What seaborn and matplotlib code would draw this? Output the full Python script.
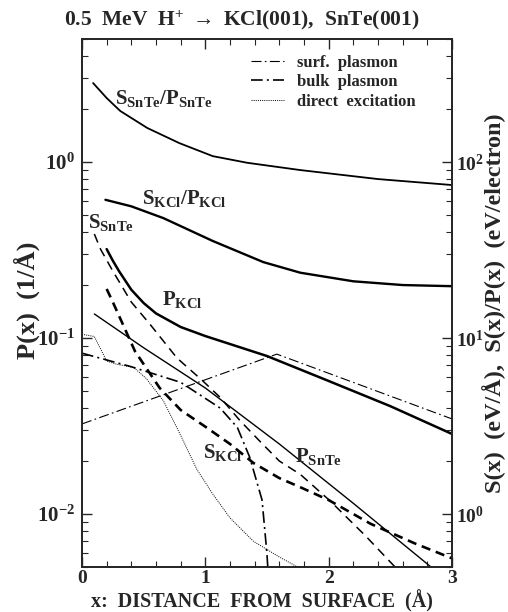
import numpy as np
import pandas as pd
import matplotlib
matplotlib.use("Agg")
import matplotlib.pyplot as plt
import seaborn as sns
from matplotlib.ticker import LogLocator, FixedLocator, NullFormatter
from matplotlib.lines import Line2D

sns.set_style("ticks")
plt.rcParams['font.family'] = ['Liberation Serif', 'DejaVu Serif']
plt.rcParams['font.weight'] = 'bold'
plt.rcParams['mathtext.fontset'] = 'custom'
plt.rcParams['mathtext.rm'] = 'Liberation Serif:bold'
plt.rcParams['mathtext.bf'] = 'Liberation Serif:bold'
plt.rcParams['mathtext.it'] = 'Liberation Serif:bold'

# ---- data (x in Angstrom) ----
# P(x) in 1/Angstrom (left axis)
x_pkcl = [0.2, 0.25, 0.3, 0.4, 0.5, 0.6, 0.8, 1.0, 1.5, 2.0, 2.5, 3.0]
p_kcl = [0.32, 0.275, 0.24, 0.188, 0.158, 0.138, 0.1155, 0.1026, 0.079, 0.057, 0.041, 0.0285]
x_psnte = [0.1, 0.5, 1.0, 1.6, 2.2, 2.8, 3.0]
p_snte = [0.137, 0.088, 0.052, 0.025, 0.0115, 0.0052, 0.004]

# S(x) in eV/Angstrom (right axis)
x_ssnte = [0.1, 0.15, 0.25, 0.4, 0.55, 0.77, 0.98, 1.12, 1.28, 1.44, 1.6, 1.77, 2.01, 2.3, 2.55]
s_snte = [39, 32, 24, 16, 12, 7.7, 5.7, 4.6, 3.4, 2.6, 2.0, 1.68, 1.19, 0.75, 0.49]
x_skcl = [0.2, 0.25, 0.43, 0.63, 0.8, 1.01, 1.2, 1.39, 1.6, 1.77, 2.0, 2.34, 2.7, 3.0]
s_kcl = [19, 16, 8.4, 5.2, 3.9, 3.1, 2.5, 1.95, 1.6, 1.42, 1.2, 0.88, 0.68, 0.56]

# S(x)/P(x) in eV/electron (right axis)
x_r_snte = [0.09, 0.2, 0.31, 0.53, 0.79, 1.06, 1.34, 1.77, 2.4, 3.0]
r_snte = [281, 231, 195, 156, 128, 108, 99, 90, 80, 74]
x_r_kcl = [0.19, 0.4, 0.66, 1.06, 1.47, 1.77, 2.2, 2.6, 3.0]
r_kcl = [61, 56, 48, 35.6, 27, 23.5, 21, 20, 19.7]

# components (eV/Angstrom, right axis)
x_surf = [0.0, 1.58, 3.0]
surf = [3.25, 8.1, 3.47]
x_bulk = [0.0, 0.39, 0.8, 1.12, 1.26, 1.36, 1.46, 1.50, 1.51]
bulk = [8.2, 6.9, 5.6, 4.0, 3.1, 2.1, 1.2, 0.59, 0.45]
x_dir = [0.0, 0.1, 0.2, 0.28, 0.42, 0.52, 0.66, 0.8, 0.93, 1.06, 1.2, 1.39, 1.6, 1.77]
direct = [10.5, 10.2, 7.4, 7.1, 6.8, 5.9, 4.4, 2.8, 1.8, 1.3, 0.95, 0.7, 0.57, 0.49]

fig = plt.figure(figsize=(5.08, 6.12), dpi=100)
ax = fig.add_axes([82/508, 1-567/612, 370/508, 528/612])
ax2 = ax.twinx()

ax.set_yscale('log')
ax2.set_yscale('log')
ax.set_xlim(0, 3)
ax.set_ylim(0.005, 5)
ax2.set_ylim(0.5, 500)

def line(axis, x, y, lw, ls, color='black'):
    df = pd.DataFrame({'x': x, 'y': y})
    sns.lineplot(data=df, x='x', y='y', ax=axis, color=color, lw=lw,
                 linestyle=ls, sort=False, estimator=None, legend=False)

SURF = (0, (9, 3, 1.5, 3))
BULK = (0, (7, 2.5, 1.2, 2.5))
DOT = (0, (1, 1.2))

line(ax, x_pkcl, p_kcl, 1.8, '-')
line(ax, x_psnte, p_snte, 1.0, '-')
line(ax2, x_r_snte, r_snte, 1.3, '-')
line(ax2, x_r_kcl, r_kcl, 1.7, '-')
line(ax2, x_ssnte, s_snte, 1.1, (0, (6, 4)))
line(ax2, x_skcl, s_kcl, 1.9, (0, (3.5, 2.2)))
line(ax2, x_surf, surf, 0.8, SURF)
line(ax2, x_bulk, bulk, 1.2, BULK)
line(ax2, x_dir, direct, 0.7, DOT)

ax.set_xlabel('')
ax.set_ylabel('')
ax2.set_ylabel('')

handles = [Line2D([], [], color='k', lw=0.8, ls=SURF),
           Line2D([], [], color='k', lw=1.2, ls=BULK),
           Line2D([], [], color='k', lw=0.7, ls=DOT)]
ax2.legend(handles, ['surf.  plasmon', 'bulk  plasmon', 'direct  excitation'],
           loc='upper left', bbox_to_anchor=(0.42, 0.995), frameon=False,
           handlelength=2.0, handletextpad=0.8, labelspacing=0.2,
           borderpad=0.3,
           prop={'family': 'Liberation Serif', 'weight': 'bold', 'size': 12})

# ticks
ax.set_xticks([0, 1, 2, 3])
ax.set_xticklabels(['0', '1', '2', '3'])
ax.xaxis.set_minor_locator(FixedLocator(np.arange(0, 3.01, 0.2)))
ax.set_yticks([0.01, 0.1, 1])
ax.set_yticklabels([r'$\mathbf{10^{-2}}$', r'$\mathbf{10^{-1}}$', r'$\mathbf{10^{0}}$'])
ax.yaxis.set_minor_locator(LogLocator(base=10, subs=np.arange(2, 10), numticks=20))
ax.yaxis.set_minor_formatter(NullFormatter())
ax2.set_yticks([1, 10, 100])
ax2.set_yticklabels([r'$\mathbf{10^{0}}$', r'$\mathbf{10^{1}}$', r'$\mathbf{10^{2}}$'])
ax2.yaxis.set_minor_locator(LogLocator(base=10, subs=np.arange(2, 10), numticks=20))
ax2.yaxis.set_minor_formatter(NullFormatter())

for a in (ax, ax2):
    a.tick_params(which='major', direction='in', length=7.5, width=1.0, labelsize=15, pad=5)
    a.tick_params(which='minor', direction='in', length=4, width=0.8)
ax2.tick_params(which='major', labelsize=14, pad=3)
ax.tick_params(axis='x', which='both', top=True, bottom=True)
ax.tick_params(axis='x', labelsize=14, pad=2)
for s in list(ax.spines.values()) + list(ax2.spines.values()):
    s.set_linewidth(1.3)

# curve labels
def lab(x, y, main, axis=ax):
    axis.text(x, y, main, fontsize=15, ha='left', va='center')

lab(0.27, 2.31, r'$\mathbf{S_{SnTe}/P_{SnTe}}$')
lab(0.49, 0.62, r'$\mathbf{S_{KCl}/P_{KCl}}$')
lab(0.05, 0.456, r'$\mathbf{S_{SnTe}}$')
lab(0.65, 0.165, r'$\mathbf{P_{KCl}}$')
lab(0.98, 0.0225, r'$\mathbf{S_{KCl}}$')
lab(1.73, 0.0211, r'$\mathbf{P_{SnTe}}$')

fig.text(242/508, 1-20/612, r'0.5  MeV  H$^{\mathbf{+}}$ $\rightarrow$ KCl(001),  SnTe(001)',
         ha='center', va='center', fontsize=15.5, fontweight='bold')
fig.text(262/508, 1-601/612, 'x:  DISTANCE  FROM  SURFACE  (Å)', ha='center', va='center',
         fontsize=14.5, fontweight='bold')
fig.text(27/508, 1-300/612, 'P(x)  (1/Å)', ha='center', va='center', rotation=90,
         fontsize=19, fontweight='bold')
fig.text(494/508, 1-303/612, 'S(x)  (eV/Å),  S(x)/P(x)  (eV/electron)', ha='center',
         va='center', rotation=90, fontsize=17.5, fontweight='bold')

fig.savefig('out.png', dpi=100)
